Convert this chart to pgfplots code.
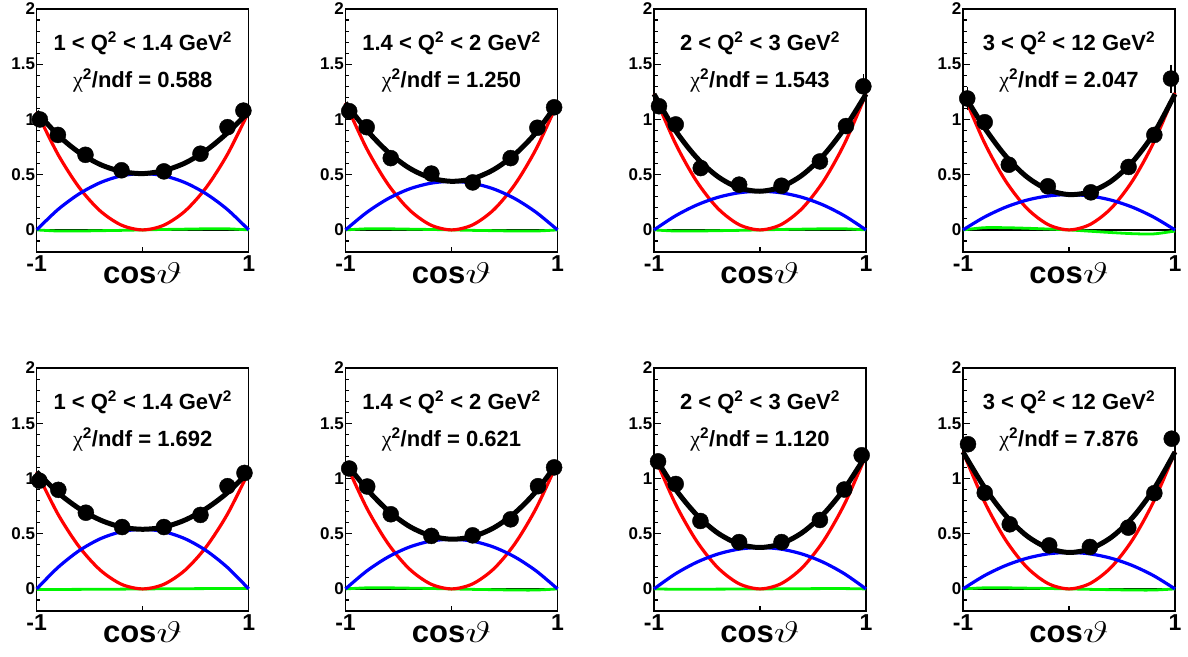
\documentclass[border=0pt]{standalone}
\usepackage{fontspec}
\setmainfont{Liberation Sans}
\newfontfamily\grk{Liberation Serif}
\usepackage{pgfplots}
\usepackage{pgfplotstable}
\pgfplotsset{compat=1.18}
\definecolor{rootred}{RGB}{255,0,0}
\definecolor{rootblue}{RGB}{0,0,255}
\definecolor{rootgreen}{RGB}{0,245,0}

% curves: x, red (cos^2 part), blue (sin^2 part), green (interference), black (total fit)
\pgfplotstableread{
x r b g k
-1 1.07 0 0 1.07
-0.8 0.685 0.184 -0.010 0.859
-0.6 0.385 0.326 -0.010 0.701
-0.4 0.171 0.428 -0.007 0.592
-0.2 0.043 0.490 -0.004 0.529
0 0 0.51 0 0.51
0.2 0.043 0.490 0.004 0.537
0.4 0.171 0.428 0.007 0.606
0.6 0.385 0.326 0.010 0.721
0.8 0.685 0.184 0.010 0.879
1 1.07 0 0 1.07
}\cA
\pgfplotstableread{
x y e
-0.97 1.00 0.02
-0.80 0.86 0.02
-0.54 0.68 0.02
-0.20 0.54 0.02
0.20 0.53 0.02
0.545 0.69 0.02
0.80 0.93 0.02
0.95 1.08 0.03
}\pA

\pgfplotstableread{
x r b g k
-1 1.15 0 0 1.15
-0.8 0.736 0.158 0.010 0.904
-0.6 0.414 0.282 0.010 0.706
-0.4 0.184 0.370 0.007 0.561
-0.2 0.046 0.422 0.004 0.472
0 0 0.44 0 0.44
0.2 0.046 0.422 -0.004 0.464
0.4 0.184 0.370 -0.007 0.547
0.6 0.414 0.282 -0.010 0.686
0.8 0.736 0.158 -0.010 0.884
1 1.15 0 0 1.15
}\cB
\pgfplotstableread{
x y e
-0.965 1.075 0.02
-0.80 0.93 0.02
-0.573 0.65 0.02
-0.19 0.51 0.02
0.20 0.43 0.02
0.558 0.65 0.02
0.81 0.925 0.02
0.968 1.11 0.03
}\pB

\pgfplotstableread{
x r b g k
-1 1.23 0 0 1.23
-0.8 0.787 0.126 -0.010 0.903
-0.6 0.443 0.224 -0.010 0.657
-0.4 0.197 0.294 -0.007 0.484
-0.2 0.049 0.336 -0.004 0.381
0 0 0.35 0 0.35
0.2 0.049 0.336 0.004 0.389
0.4 0.197 0.294 0.007 0.498
0.6 0.443 0.224 0.010 0.677
0.8 0.787 0.126 0.010 0.923
1 1.23 0 0 1.23
}\cC
\pgfplotstableread{
x y e
-0.953 1.12 0.03
-0.795 0.955 0.02
-0.559 0.56 0.02
-0.197 0.41 0.02
0.203 0.40 0.02
0.565 0.62 0.02
0.811 0.94 0.03
0.975 1.30 0.075
}\pC

\pgfplotstableread{
x r b g k
-1 1.24 0 0 1.24
-0.8 0.794 0.115 0.020 0.929
-0.6 0.446 0.205 0.020 0.671
-0.4 0.198 0.269 0.015 0.482
-0.2 0.050 0.307 0.008 0.365
0 0 0.32 0 0.32
0.2 0.050 0.307 -0.012 0.345
0.4 0.198 0.269 -0.024 0.443
0.6 0.446 0.205 -0.034 0.617
0.8 0.794 0.115 -0.036 0.873
1 1.24 0 -0.010 1.23
}\cD
\pgfplotstableread{
x y e
-0.96 1.19 0.07
-0.795 0.975 0.03
-0.568 0.59 0.02
-0.20 0.395 0.02
0.206 0.34 0.02
0.562 0.57 0.02
0.805 0.86 0.03
0.962 1.37 0.09
}\pD

\pgfplotstableread{
x r b g k
-1 1.06 0 -0.006 1.06
-0.8 0.678 0.194 -0.005 0.872
-0.6 0.382 0.346 -0.004 0.728
-0.4 0.170 0.454 -0.003 0.624
-0.2 0.042 0.518 -0.002 0.560
0 0 0.54 0 0.54
0.2 0.042 0.518 0.001 0.560
0.4 0.170 0.454 0.002 0.624
0.6 0.382 0.346 0.003 0.728
0.8 0.678 0.194 0.004 0.872
1 1.06 0 0.005 1.06
}\cE
\pgfplotstableread{
x y e
-0.975 0.98 0.02
-0.796 0.897 0.02
-0.536 0.69 0.02
-0.194 0.56 0.02
0.20 0.56 0.02
0.545 0.67 0.02
0.80 0.93 0.02
0.96 1.05 0.02
}\pE

\pgfplotstableread{
x r b g k
-1 1.145 0 0 1.145
-0.8 0.733 0.162 0.010 0.905
-0.6 0.412 0.288 0.010 0.710
-0.4 0.183 0.378 0.007 0.568
-0.2 0.046 0.432 0.004 0.482
0 0 0.45 0 0.45
0.2 0.046 0.432 -0.004 0.474
0.4 0.183 0.378 -0.007 0.554
0.6 0.412 0.288 -0.010 0.690
0.8 0.733 0.162 -0.010 0.885
1 1.145 0 0 1.145
}\cF
\pgfplotstableread{
x y e
-0.965 1.09 0.02
-0.795 0.927 0.02
-0.573 0.676 0.02
-0.19 0.48 0.02
0.20 0.485 0.02
0.558 0.63 0.02
0.816 0.93 0.02
0.968 1.10 0.02
}\pF

\pgfplotstableread{
x r b g k
-1 1.21 0 0 1.21
-0.8 0.774 0.135 -0.003 0.906
-0.6 0.436 0.240 -0.003 0.673
-0.4 0.194 0.315 -0.002 0.507
-0.2 0.048 0.360 -0.001 0.407
0 0 0.375 0 0.375
0.2 0.048 0.360 0.001 0.409
0.4 0.194 0.315 0.002 0.511
0.6 0.436 0.240 0.003 0.679
0.8 0.774 0.135 0.003 0.912
1 1.21 0 0 1.21
}\cG
\pgfplotstableread{
x y e
-0.962 1.155 0.02
-0.795 0.95 0.02
-0.562 0.615 0.02
-0.197 0.424 0.02
0.203 0.424 0.02
0.565 0.624 0.02
0.795 0.90 0.02
0.959 1.21 0.03
}\pG

\pgfplotstableread{
x r b g k
-1 1.24 0 0 1.24
-0.8 0.794 0.119 0.010 0.923
-0.6 0.446 0.211 0.010 0.667
-0.4 0.198 0.277 0.007 0.482
-0.2 0.050 0.317 0.004 0.371
0 0 0.33 0 0.33
0.2 0.050 0.317 -0.004 0.363
0.4 0.198 0.277 -0.007 0.468
0.6 0.446 0.211 -0.010 0.647
0.8 0.794 0.119 -0.010 0.903
1 1.24 0 0 1.24
}\cH
\pgfplotstableread{
x y e
-0.953 1.31 0.03
-0.795 0.87 0.02
-0.559 0.585 0.02
-0.187 0.394 0.02
0.197 0.38 0.02
0.559 0.555 0.02
0.805 0.867 0.02
0.969 1.36 0.03
}\pH

\pgfplotsset{panel/.style={
  scale only axis, width=212pt, height=243pt,
  xmin=-1, xmax=1, ymin=-0.2, ymax=2,
  clip=false,
  axis line style={line width=1.3pt},
  xtick={-1,0,1}, xticklabels={-1,,1},
  ytick={0,0.5,1,1.5,2}, yticklabels={0,0.5,1,1.5,2},
  minor ytick={-0.1,0.1,0.2,0.3,0.4,0.6,0.7,0.8,0.9,1.1,1.2,1.3,1.4,1.6,1.7,1.8,1.9},
  xtick pos=bottom, ytick pos=left, tick align=inside,
  major tick length=6.5pt, minor tick length=3.5pt,
  tick style={black, line width=1.1pt},
  xtick style={/pgfplots/major tick length=5pt},
  y tick label style={font=\fontsize{17}{19}\selectfont\bfseries, inner xsep=1.5pt},
  x tick label style={font=\fontsize{23}{26}\selectfont\bfseries},
  xlabel={\fontsize{31}{34}\selectfont\bfseries cos\scalebox{1.8}[1.2]{$\vartheta$}},
  xlabel style={at={(axis description cs:0.5,0)}, anchor=base, yshift=-31pt},
}}

\newcommand{\panel}[6]{%
\begin{axis}[panel, at={(#1pt,#2pt)}, anchor=south west]
\addplot[black, line width=1.3pt] coordinates {(-1,0) (1,0)};
\addplot[rootgreen, line width=2.8pt, smooth] table[x=x,y=g]{#3};
\addplot[rootred, line width=3.2pt, smooth] table[x=x,y=r]{#3};
\addplot[rootblue, line width=3.2pt, smooth] table[x=x,y=b]{#3};
\addplot[black, only marks, mark=*, mark size=8pt,
  error bars/.cd, y dir=both, y explicit,
  error mark options={black, mark size=4pt, line width=1.2pt},
  error bar style={line width=1.2pt}] table[x=x,y=y,y error=e]{#4};
\addplot[black, line width=5pt, smooth] table[x=x,y=k]{#3};
\node[font=\fontsize{22}{26}\selectfont\bfseries] at (axis cs:0,1.69) {#5};
\node[font=\fontsize{22}{26}\selectfont\bfseries] at (axis cs:0,1.355) {{\grk\mdseries χ}\textsuperscript{2}/ndf = #6};
\end{axis}}

\begin{document}
\begin{tikzpicture}
\useasboundingbox (0,0) rectangle (1188pt,-656pt);
\panel{36.7}{-252}{\cA}{\pA}{1 < Q\textsuperscript{2} < 1.4 GeV\textsuperscript{2}}{0.588}
\panel{345.5}{-252}{\cB}{\pB}{1.4 < Q\textsuperscript{2} < 2 GeV\textsuperscript{2}}{1.250}
\panel{654}{-252}{\cC}{\pC}{2 < Q\textsuperscript{2} < 3 GeV\textsuperscript{2}}{1.543}
\panel{963}{-252}{\cD}{\pD}{3 < Q\textsuperscript{2} < 12 GeV\textsuperscript{2}}{2.047}
\panel{36.7}{-611}{\cE}{\pE}{1 < Q\textsuperscript{2} < 1.4 GeV\textsuperscript{2}}{1.692}
\panel{345.5}{-611}{\cF}{\pF}{1.4 < Q\textsuperscript{2} < 2 GeV\textsuperscript{2}}{0.621}
\panel{654}{-611}{\cG}{\pG}{2 < Q\textsuperscript{2} < 3 GeV\textsuperscript{2}}{1.120}
\panel{963}{-611}{\cH}{\pH}{3 < Q\textsuperscript{2} < 12 GeV\textsuperscript{2}}{7.876}
\end{tikzpicture}
\end{document}
